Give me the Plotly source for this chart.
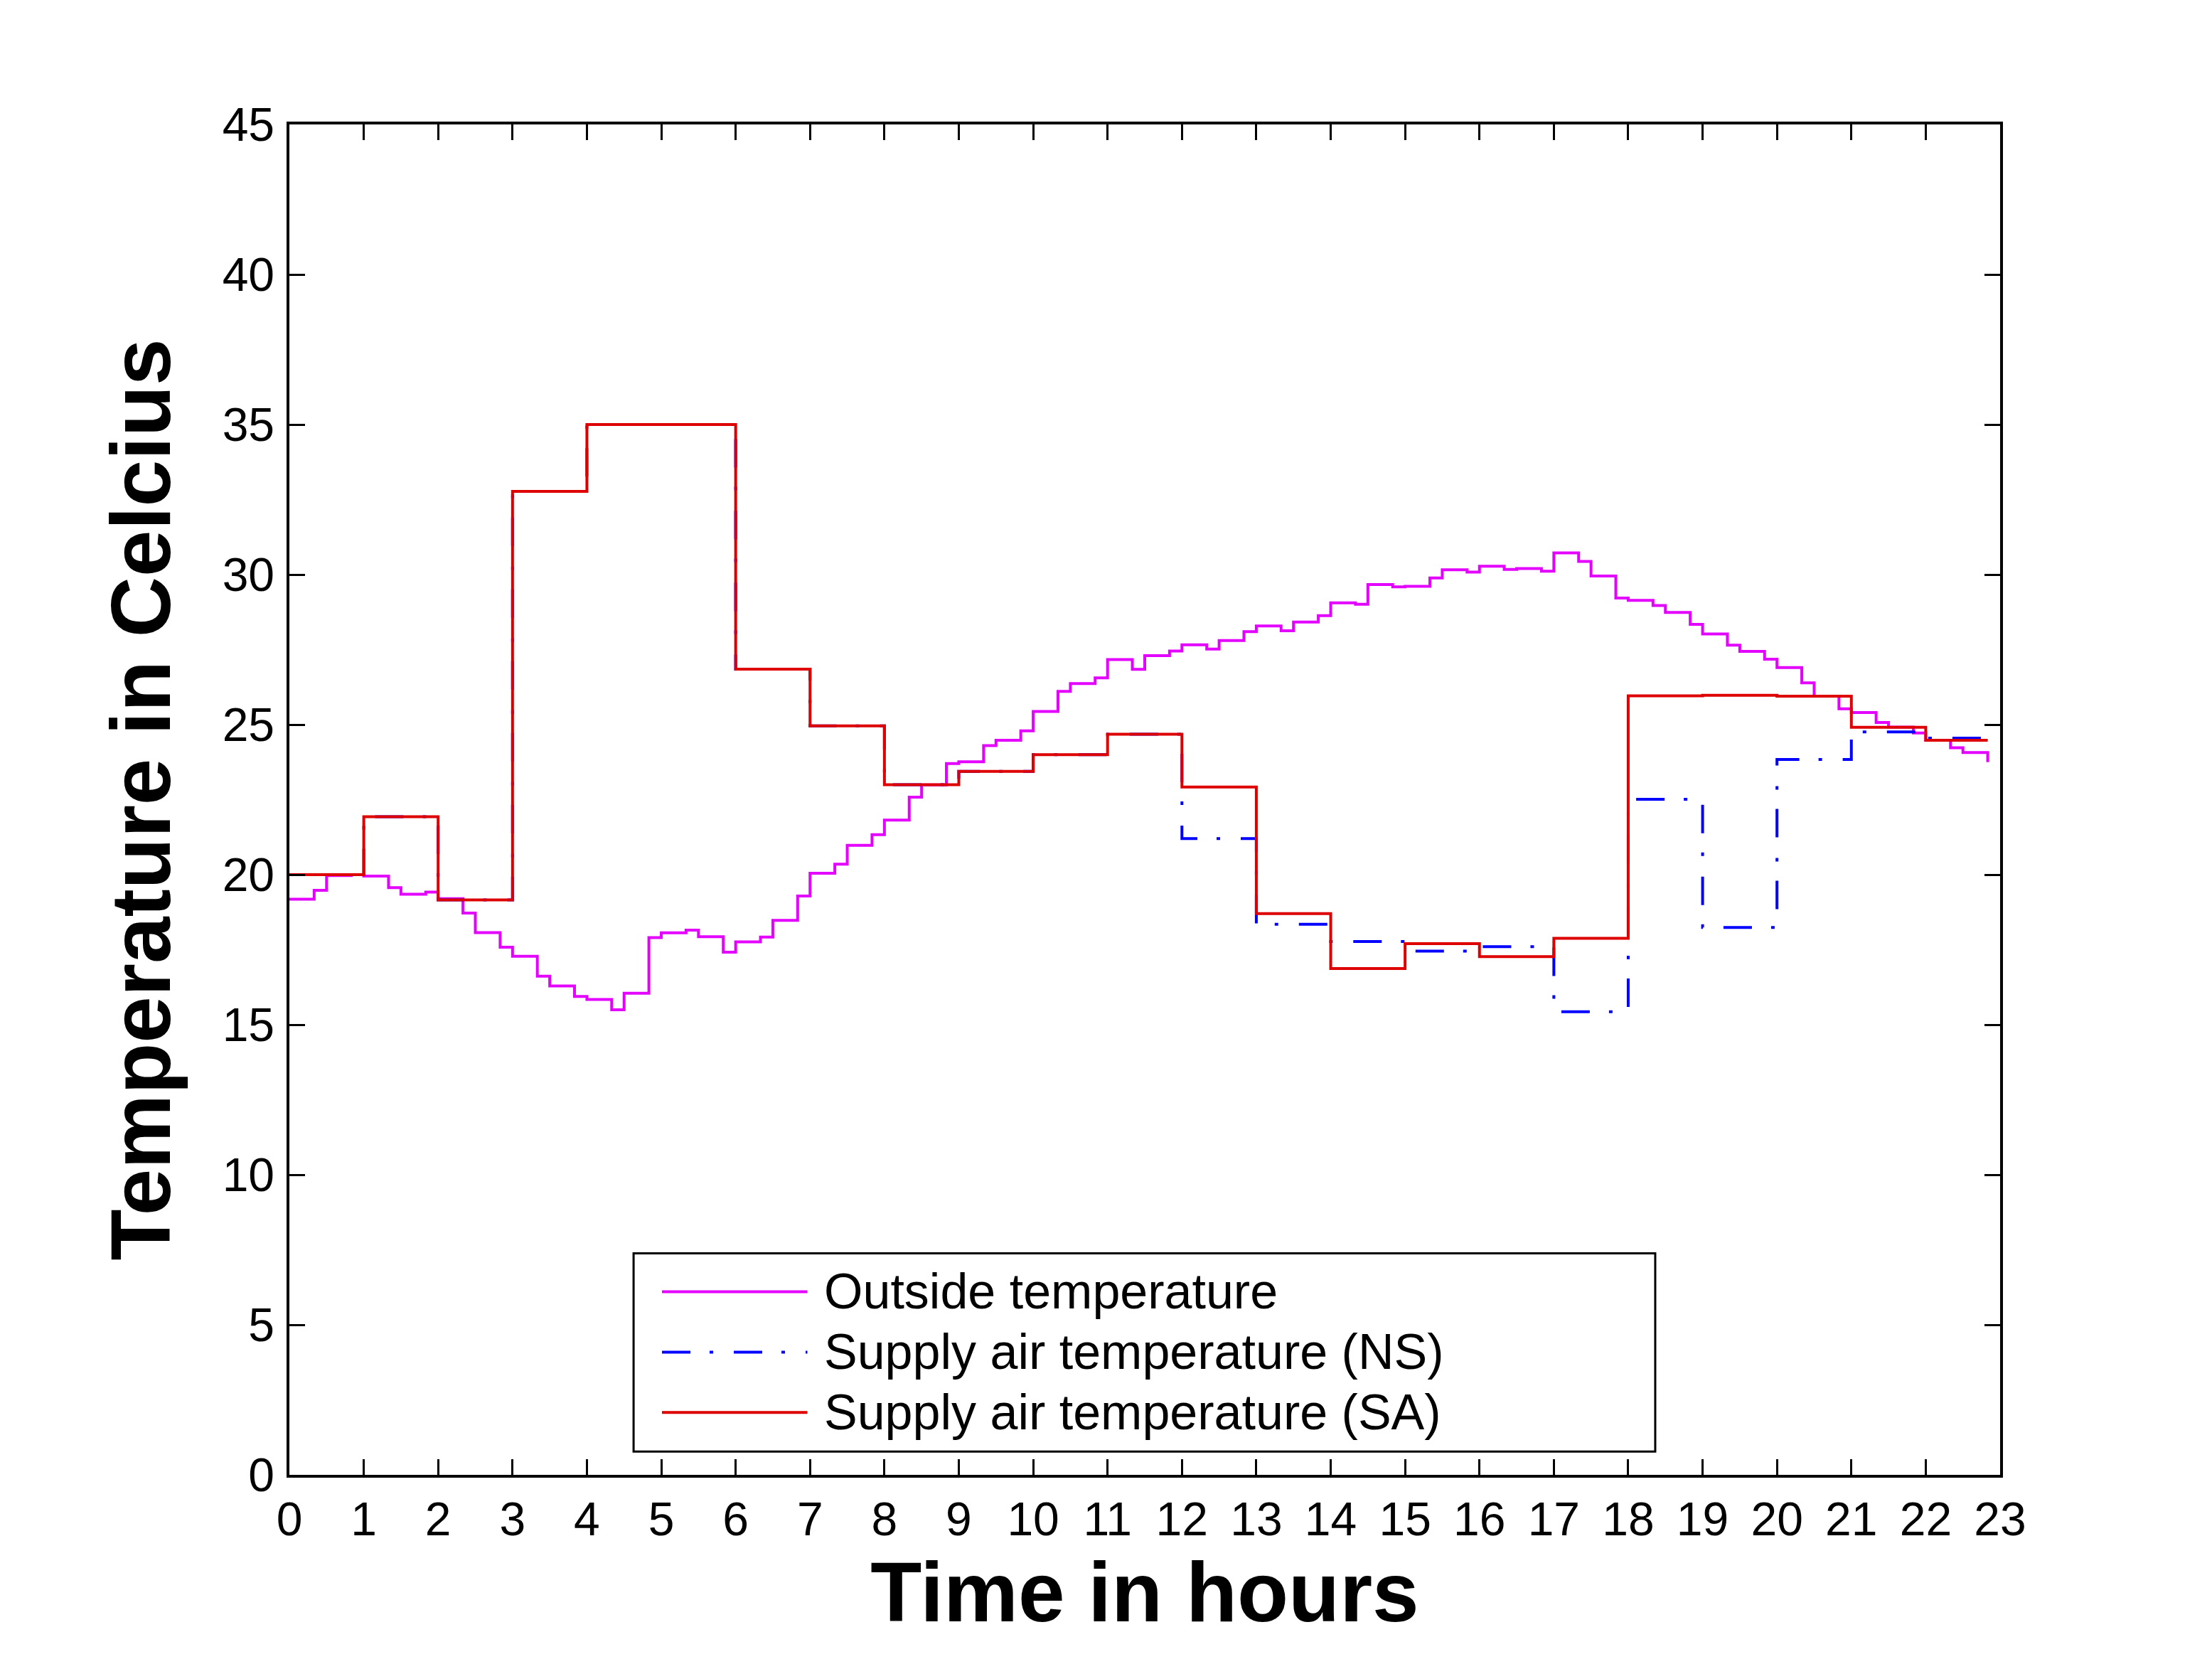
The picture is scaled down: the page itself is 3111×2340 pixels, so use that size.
import plotly.graph_objects as go

# hours of the day shown on the axis
hour_ticks = list(range(0, 24))
temp_ticks = list(range(0, 50, 5))

# outside temperature: four samples per hour (at h, h+1/3, h+1/2, h+5/6)
sample_offsets = [0, 1 / 3, 1 / 2, 5 / 6]
outside_by_hour = [
    [19.18, 19.48, 19.97, 20.00],
    [19.95, 19.57, 19.35, 19.42],
    [19.20, 18.72, 18.07, 17.58],
    [17.28, 16.62, 16.29, 15.94],
    [15.84, 15.50, 16.05, 17.90],
    [18.06, 18.15, 17.93, 17.42],
    [17.76, 17.92, 18.48, 19.29],
    [20.05, 20.35, 20.98, 21.33],
    [21.82, 22.58, 22.99, 23.70],
    [23.76, 24.30, 24.48, 24.79],
    [25.44, 26.11, 26.37, 26.56],
    [27.17, 26.84, 27.30, 27.45],
    [27.66, 27.52, 27.80, 28.10],
    [28.29, 28.13, 28.42, 28.63],
    [29.06, 29.01, 29.67, 29.59],
    [29.61, 29.89, 30.16, 30.08],
    [30.28, 30.17, 30.20, 30.11],
    [30.72, 30.44, 29.95, 29.22],
    [29.14, 28.97, 28.74, 28.34],
    [28.02, 27.65, 27.44, 27.18],
    [26.90, 26.39, 25.95, 25.53],
    [25.40, 25.07, 24.92, 24.72],
    [24.48, 24.23, 24.07, 23.75],
]

# supply air temperatures, one value per hour (last entry = end of record)
supply_time = [0, 1, 2, 3, 4, 5, 6, 7, 8, 9, 10, 11, 12, 13, 14, 15, 16,
               17, 18, 19, 20, 21, 22, 22 + 5 / 6]
supply_ns = [20.0, 21.93, 19.16, 32.77, 35.0, 35.0, 26.85, 24.96, 23.0, 23.44,
             24.0, 24.68, 21.2, 18.35, 17.77, 17.45, 17.6, 15.43, 22.51, 18.24,
             23.84, 24.76, 24.55, 24.55]
supply_sa = [20.0, 21.93, 19.16, 32.77, 35.0, 35.0, 26.85, 24.96, 23.0, 23.44,
             24.0, 24.68, 22.92, 18.7, 16.87, 17.7, 17.27, 17.88, 25.96, 25.98,
             25.95, 24.91, 24.48, 24.48]

series_names = ['Outside temperature',
                'Supply air temperature (NS)',
                'Supply air temperature (SA)']

outside_time = []
outside_temp = []
for h, row in enumerate(outside_by_hour):
    for off, v in zip(sample_offsets, row):
        outside_time.append(h + off)
        outside_temp.append(v)

MAGENTA = 'rgb(228,0,255)'
BLUE = 'rgb(0,0,255)'
RED = 'rgb(222,0,0)'
NS_DASH = '40px,27px,5px,29px'
FONT = 'Liberation Sans, Arial, Helvetica, sans-serif'
LW = 4

fig = go.Figure()
fig.add_trace(go.Scatter(x=outside_time, y=outside_temp, mode='lines',
                         name=series_names[0], line_shape='hv',
                         line=dict(color=MAGENTA, width=LW)))
fig.add_trace(go.Scatter(x=supply_time, y=supply_ns, mode='lines',
                         name=series_names[1], line_shape='hv',
                         line=dict(color=BLUE, width=LW, dash=NS_DASH)))
fig.add_trace(go.Scatter(x=supply_time, y=supply_sa, mode='lines',
                         name=series_names[2], line_shape='hv',
                         line=dict(color=RED, width=LW)))

axis_style = dict(showline=True, linecolor='black', linewidth=3.5,
                  mirror='ticks', ticks='inside', ticklen=22, tickwidth=2.5,
                  tickcolor='black', showgrid=False, zeroline=False,
                  tickfont=dict(family=FONT, size=66, color='black'))

# hand-made legend box (long line samples like the original)
box_x0, box_x1, box_y0, box_y1 = 0.2012, 0.7984, 0.0173, 0.164
row_y = [0.1356, 0.0909, 0.0462]
sample_x0, sample_x1, text_x = 0.2178, 0.3028, 0.3119
shapes = [dict(type='rect', xref='paper', yref='paper',
               x0=box_x0, x1=box_x1, y0=box_y0, y1=box_y1,
               line=dict(color='black', width=3), fillcolor='white')]
annotations = []
for yy, col, dash, name in zip(row_y, [MAGENTA, BLUE, RED],
                               ['solid', NS_DASH, 'solid'], series_names):
    shapes.append(dict(type='line', xref='paper', yref='paper',
                       x0=sample_x0, x1=sample_x1, y0=yy, y1=yy,
                       line=dict(color=col, width=LW, dash=dash)))
    annotations.append(dict(xref='paper', yref='paper', x=text_x, y=yy,
                            xanchor='left', yanchor='middle', showarrow=False,
                            text=name,
                            font=dict(family=FONT, size=70, color='black')))

# page body has an 8px default margin, so the margins absorb it
fig.update_layout(
    width=3111, height=2340,
    paper_bgcolor='white', plot_bgcolor='white',
    showlegend=False,
    margin=dict(l=399, r=306, t=167, b=274),
    font=dict(family=FONT, color='black'),
    xaxis=dict(axis_style, range=[0, 23], tickvals=hour_ticks,
               ticklabelstandoff=2,
               title=dict(text='<b>Time in hours</b>', standoff=18,
                          font=dict(family=FONT, size=118, color='black'))),
    yaxis=dict(axis_style, range=[0, 45], tickvals=temp_ticks,
               ticklabelstandoff=4,
               title=dict(text='<b>Temperature in Celcius</b>', standoff=34,
                          font=dict(family=FONT, size=118, color='black'))),
    shapes=shapes,
    annotations=annotations,
)

fig.write_html('out.html')
